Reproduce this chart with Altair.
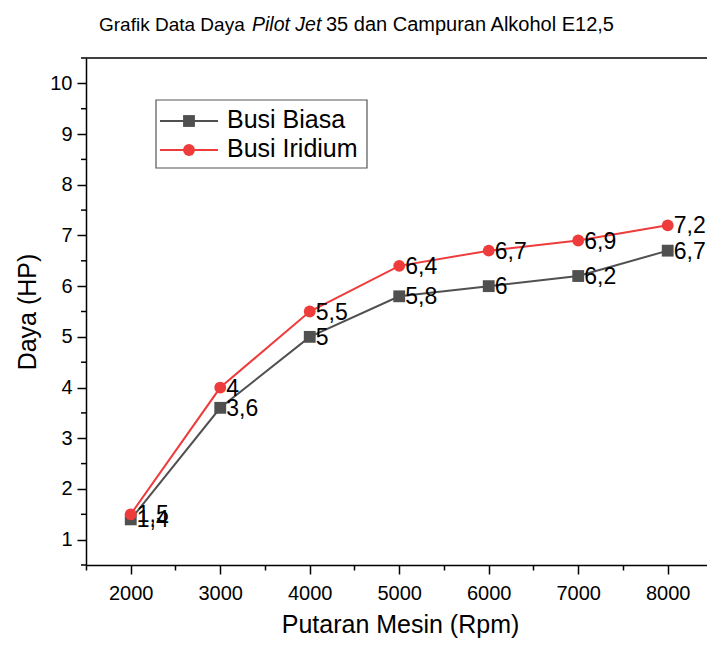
import altair as alt
import pandas as pd

# ---- data ----
rpm = [2000, 3000, 4000, 5000, 6000, 7000, 8000]
busi_biasa = [1.4, 3.6, 5.0, 5.8, 6.0, 6.2, 6.7]
busi_iridium = [1.5, 4.0, 5.5, 6.4, 6.7, 6.9, 7.2]
series = ["Busi Biasa", "Busi Iridium"]
colors = ["#505050", "#EE3B3B"]
shapes = ["square", "circle"]
x_ticks = [1500, 2000, 2500, 3000, 3500, 4000, 4500, 5000, 5500, 6000, 6500, 7000, 7500, 8000]
y_major = [1, 2, 3, 4, 5, 6, 7, 8, 9, 10]
y_minor = [0.5, 1.5, 2.5, 3.5, 4.5, 5.5, 6.5, 7.5, 8.5, 9.5, 10.5]

def fmt(v):
    return (f"{v:g}").replace(".", ",")

rows = []
for name, vals in zip(series, [busi_biasa, busi_iridium]):
    for r, v in zip(rpm, vals):
        rows.append({"rpm": r, "daya": v, "seri": name, "label": fmt(v)})
df = pd.DataFrame(rows)

W, H = 621, 507
FONT = "Liberation Sans"

xs = alt.Scale(domain=[1500, 8439], nice=False, zero=False)
ys = alt.Scale(domain=[0.5, 10.5], nice=False, zero=False)
cs = alt.Scale(domain=series, range=colors)
ss = alt.Scale(domain=series, range=shapes)

x_axis = alt.Axis(
    values=x_ticks, format="d", labelOverlap=False,
    labelExpr="datum.value % 1000 === 0 ? datum.label : ''",
    tickSize={"condition": {"test": "datum.value % 1000 === 0", "value": 9}, "value": 5},
    labelPadding=9, labelFontSize=20, labelFont=FONT, labelColor="black",
    title="Putaran Mesin (Rpm)", titleFont=FONT, titleFontSize=25, titleFontWeight="normal",
    titleColor="black", titleX=314, titleY=67, titleBaseline="alphabetic", titleAlign="center",
    domainColor="black", domainWidth=1.5, tickColor="black", tickWidth=1.5, grid=False,
)
y_axis = alt.Axis(
    values=y_major, format="d", labelOverlap=False, tickSize=9,
    labelPadding=5, labelFontSize=20, labelFont=FONT, labelColor="black",
    title="Daya (HP)", titleFont=FONT, titleFontSize=25, titleFontWeight="normal",
    titleColor="black", titleX=-51, titleY=H / 2, titleBaseline="alphabetic", titleAlign="center",
    titleAngle=270,
    domainColor="black", domainWidth=1.5, tickColor="black", tickWidth=1.5, grid=False,
)

base = alt.Chart(df)

lines = base.mark_line(strokeWidth=2).encode(
    x=alt.X("rpm:Q", scale=xs, axis=x_axis),
    y=alt.Y("daya:Q", scale=ys, axis=y_axis),
    color=alt.Color("seri:N", scale=cs, legend=None),
    order=alt.Order("rpm:Q"),
)
points = base.mark_point(filled=True, size=140, opacity=1).encode(
    x=alt.X("rpm:Q", scale=xs),
    y=alt.Y("daya:Q", scale=ys),
    color=alt.Color("seri:N", scale=cs, legend=None),
    shape=alt.Shape("seri:N", scale=ss, legend=None),
)
labels = base.mark_text(align="left", baseline="alphabetic", dx=6, dy=8,
                        fontSize=23, font=FONT, color="black").encode(
    x=alt.X("rpm:Q", scale=xs),
    y=alt.Y("daya:Q", scale=ys),
    text="label:N",
)

# minor ticks on the y axis, placed through the y scale
minor_y = alt.Chart(pd.DataFrame({"v": y_minor})).mark_rule(color="black", strokeWidth=1.5).encode(
    y=alt.Y("v:Q", scale=ys), x=alt.value(-5), x2=alt.value(0)
)

top_rule = alt.Chart(pd.DataFrame({"a": [0]})).mark_rule(color="black", strokeWidth=1.5).encode(
    x=alt.value(0), x2=alt.value(W), y=alt.value(0)
)

# legend
leg_box = alt.Chart(pd.DataFrame({"a": [0]})).mark_rect(
    fill="white", stroke="#555555", strokeWidth=1.2
).encode(x=alt.value(70), x2=alt.value(281), y=alt.value(42), y2=alt.value(110))

leg_layers = [leg_box]
for i, (name, col, shp) in enumerate(zip(series, colors, shapes)):
    yy = 63 + 29 * i
    one = pd.DataFrame({"seri": [name]})
    leg_layers.append(alt.Chart(one).mark_rule(color=col, strokeWidth=2).encode(
        x=alt.value(74), x2=alt.value(132), y=alt.value(yy)))
    leg_layers.append(alt.Chart(one).mark_point(filled=True, size=140, opacity=1, color=col, shape=shp).encode(
        x=alt.value(103), y=alt.value(yy)))
    leg_layers.append(alt.Chart(one).mark_text(align="left", baseline="alphabetic", fontSize=25,
                                               font=FONT, color="black").encode(
        x=alt.value(141), y=alt.value(yy + 7), text="seri:N"))

# title with italic part
title_parts = ["Grafik Data Daya", "Pilot Jet", "35 dan Campuran Alkohol E12,5"]
title_styles = ["normal", "italic", "normal"]
title_sizes = [19, 19.5, 20]
title_x = [13, 166, 240]
title_layers = []
for txt, st, fs, tx in zip(title_parts, title_styles, title_sizes, title_x):
    title_layers.append(alt.Chart(pd.DataFrame({"t": [txt]})).mark_text(
        align="left", baseline="alphabetic", fontSize=fs, font=FONT, fontStyle=st, color="black"
    ).encode(x=alt.value(tx), y=alt.value(-27), text="t:N"))

chart = alt.layer(
    top_rule, minor_y, lines, points, labels, *leg_layers, *title_layers
).properties(
    width=W, height=H,
    autosize=alt.AutoSizeParams(type="none"),
    padding={"left": 78, "top": 50, "right": 0, "bottom": 73},
    background="white",
).configure_view(stroke=None)

chart.save("out.html", embed_options={"renderer": "svg", "actions": False})
